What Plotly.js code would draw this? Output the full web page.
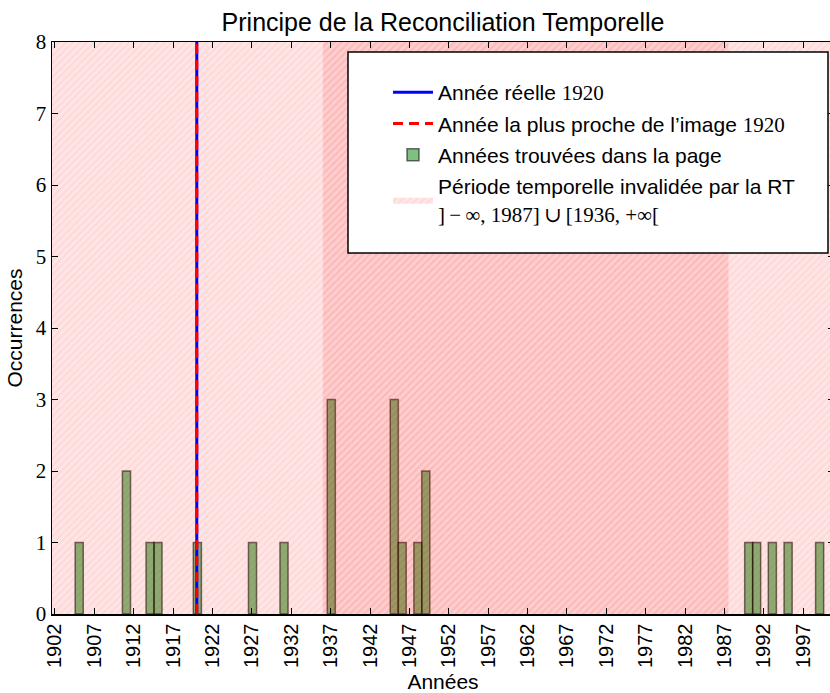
<!DOCTYPE html>
<html>
<head>
<meta charset="utf-8">
<script src="https://cdn.plot.ly/plotly-3.0.1.min.js"></script>
<style>
html, body { margin: 0; padding: 0; overflow: hidden; background: #fff; }
#chart { width: 840px; height: 693px; }
</style>
</head>
<body>
<div id="chart"></div>
<script>
// Data
const years = [1905, 1911, 1914, 1915, 1920, 1927, 1931, 1937, 1945, 1946, 1948, 1949, 1990, 1991, 1993, 1995, 1999];
const counts = [1, 2, 1, 1, 1, 1, 1, 3, 3, 1, 1, 2, 1, 1, 1, 1, 1];
const realYear = 1920;
const closestYear = 1920;
const invalidEnd = 1987.5;   // ]-inf, 1987]
const invalidStart = 1936;   // [1936, +inf[
const xRange = [1901.62, 2000.9];
const yRange = [0, 8];

const serif = "Liberation Serif, DejaVu Serif, serif";
const sans = "Liberation Sans, Arial, sans-serif";
const sr = t => '<span style="font-family:' + serif + '">' + t + '</span>';

const spanPattern = {shape: '/', bgcolor: 'rgba(255,0,0,0.1)', fgcolor: 'rgba(200,0,0,0.05)', size: 5, solidity: 0.4};

const traces = [
  {
    type: 'scatter', mode: 'lines',
    x: [xRange[0] - 20, invalidEnd, invalidEnd, xRange[0] - 20, xRange[0] - 20],
    y: [yRange[0], yRange[0], yRange[1], yRange[1], yRange[0]],
    fill: 'toself', fillcolor: 'rgba(255,0,0,0.1)', fillpattern: spanPattern,
    line: {width: 0, color: 'rgba(0,0,0,0)'},
    name: 'Période temporelle invalidée par la RT<br>' + sr(']\u2009\u2212\u2009\u221E, 1987]\u2009\u222A\u2009[1936, +\u221E['),
    legendgroup: 'd', legendrank: 4, hoverinfo: 'skip'
  },
  {
    type: 'scatter', mode: 'lines',
    x: [invalidStart, xRange[1] + 20, xRange[1] + 20, invalidStart, invalidStart],
    y: [yRange[0], yRange[0], yRange[1], yRange[1], yRange[0]],
    fill: 'toself', fillcolor: 'rgba(255,0,0,0.1)', fillpattern: spanPattern,
    line: {width: 0, color: 'rgba(0,0,0,0)'},
    showlegend: false, hoverinfo: 'skip'
  },
  {
    type: 'bar', x: years, y: counts,
    width: 1.03, offset: -0.44,
    marker: {color: 'rgba(0,128,0,0.5)', line: {color: 'rgba(0,0,0,0.55)', width: 1.5}},
    name: 'Années trouvées dans la page', legendgroup: 'c', legendrank: 3
  },
  {
    type: 'scatter', mode: 'lines',
    x: [realYear, realYear], y: yRange,
    line: {color: '#0000ff', width: 3},
    name: 'Année réelle ' + sr('1920'), legendgroup: 'a', legendrank: 1
  },
  {
    type: 'scatter', mode: 'lines',
    x: [closestYear, closestYear], y: yRange,
    line: {color: '#ff0000', width: 3, dash: '10px,6px'},
    name: 'Année la plus proche de l\u2019image ' + sr('1920'), legendgroup: 'b', legendrank: 2
  }
];

const layout = {
  width: 840, height: 693,
  margin: {l: 52, r: 6, t: 42, b: 79},
  paper_bgcolor: '#fff', plot_bgcolor: '#fff',
  font: {family: sans, size: 21, color: '#000'},
  title: {text: 'Principe de la Reconciliation Temporelle', font: {family: sans, size: 25},
          x: 443 / 840, xanchor: 'center', y: 1 - 22 / 693, yanchor: 'middle', yref: 'container', xref: 'container'},
  bargap: 0,
  showlegend: true,
  legend: {
    x: (388 - 52) / 782, xanchor: 'left', y: 1 - (72 - 42) / 572, yanchor: 'top',
    bgcolor: 'rgba(0,0,0,0)', borderwidth: 0,
    font: {family: sans, size: 21}, traceorder: 'grouped', tracegroupgap: 1,
    itemwidth: 40
  },
  shapes: [
    {type: 'rect', xref: 'paper', yref: 'paper',
     x0: (348 - 52) / 782, x1: (828 - 52) / 782,
     y0: 1 - (253 - 42) / 572, y1: 1 - (52 - 42) / 572,
     fillcolor: '#ffffff', line: {color: '#000', width: 1.5}, layer: 'above'}
  ],
  xaxis: {
    range: xRange, tick0: 1902, dtick: 5, tickangle: -90,
    ticks: 'inside', ticklen: 6, tickwidth: 1, tickcolor: '#000',
    showline: true, linecolor: '#000', linewidth: 1.5, mirror: 'ticks',
    showgrid: false, zeroline: false,
    tickfont: {family: sans, size: 20},
    title: {text: 'Années', font: {family: sans, size: 21}, standoff: 8}
  },
  yaxis: {
    range: yRange, dtick: 1,
    ticks: 'inside', ticklen: 6, tickwidth: 1, tickcolor: '#000',
    showline: true, linecolor: '#000', linewidth: 1.5, mirror: 'ticks',
    showgrid: false, zeroline: false,
    tickfont: {family: serif, size: 21},
    title: {text: 'Occurrences', font: {family: sans, size: 21}, standoff: 7}
  }
};

Plotly.newPlot('chart', traces, layout, {displayModeBar: false, staticPlot: true});
</script>
</body>
</html>
